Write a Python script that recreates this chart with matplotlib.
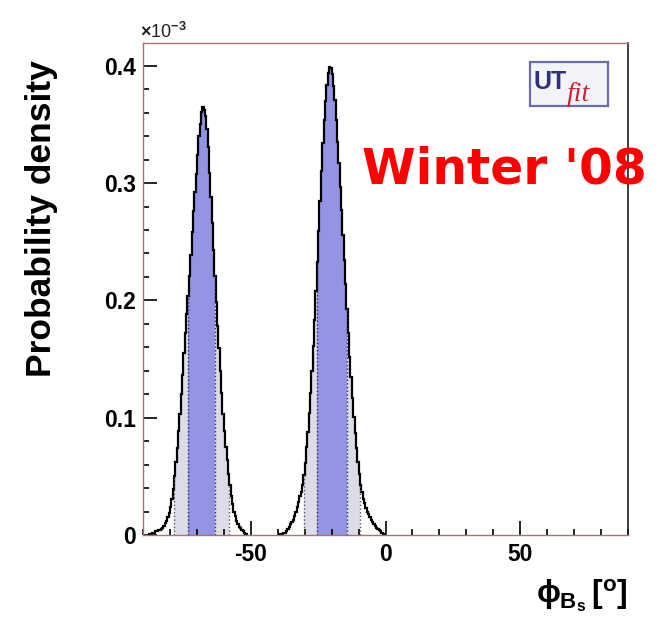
import numpy as np
import matplotlib
matplotlib.use("Agg")
import matplotlib.pyplot as plt
from matplotlib.patches import Rectangle
from matplotlib.ticker import MultipleLocator, FuncFormatter

# phi_Bs posterior, 0.5 degree bins, density in units of 1e-3
bin_width = 0.5
peak1_start = -88.0
peak1_density = [
    0.001, 0.001, 0.001, 0.002, 0.002, 0.003, 0.003, 0.004, 0.004, 0.005,
    0.006, 0.008, 0.010, 0.012, 0.015, 0.019, 0.024, 0.031, 0.039, 0.050,
    0.062, 0.074, 0.089, 0.103, 0.120, 0.136, 0.155, 0.172, 0.188, 0.204,
    0.221, 0.239, 0.258, 0.276, 0.292, 0.308, 0.324, 0.340, 0.350, 0.361,
    0.365, 0.362, 0.357, 0.346, 0.331, 0.309, 0.288, 0.266, 0.243, 0.221,
    0.199, 0.178, 0.159, 0.140, 0.121, 0.103, 0.089, 0.075, 0.064, 0.052,
    0.043, 0.033, 0.026, 0.020, 0.016, 0.012, 0.009, 0.007, 0.006, 0.004,
    0.003, 0.002, 0.001, 0.001,
]
peak2_start = -40.0
peak2_density = [
    0.001, 0.001, 0.001, 0.001, 0.002, 0.002, 0.003, 0.005, 0.007, 0.009,
    0.011, 0.013, 0.016, 0.020, 0.024, 0.028, 0.033, 0.037, 0.043, 0.051,
    0.061, 0.075, 0.088, 0.104, 0.121, 0.140, 0.161, 0.183, 0.208, 0.233,
    0.259, 0.285, 0.310, 0.334, 0.354, 0.370, 0.384, 0.394, 0.399, 0.398,
    0.393, 0.383, 0.371, 0.354, 0.335, 0.317, 0.297, 0.277, 0.256, 0.234,
    0.214, 0.193, 0.172, 0.152, 0.135, 0.117, 0.101, 0.087, 0.074, 0.062,
    0.052, 0.043, 0.037, 0.031, 0.027, 0.023, 0.020, 0.018, 0.015, 0.013,
    0.011, 0.009, 0.008, 0.006, 0.005, 0.004, 0.003, 0.002, 0.001, 0.001,
]

# credible intervals (degrees)
range95 = [(-78.4, -58.0), (-30.4, -9.4)]
range68 = [(-73.2, -63.2), (-25.5, -14.3)]

x_ticks = [-50, 0, 50]
y_ticks = [0, 0.1, 0.2, 0.3, 0.4]

plt.rcParams["font.family"] = ["Liberation Sans", "DejaVu Sans"]
plt.rcParams["axes.unicode_minus"] = False
plt.rcParams["mathtext.fontset"] = "custom"
plt.rcParams["mathtext.rm"] = "Liberation Sans:bold"
plt.rcParams["mathtext.bf"] = "Liberation Sans:bold"
plt.rcParams["mathtext.it"] = "Liberation Sans:bold"

fig = plt.figure(figsize=(6.58, 6.27), dpi=100)
ax = fig.add_axes([143 / 658, 1 - 535 / 627, 485 / 658, 492 / 627])

peaks = []
for start, vals in [(peak1_start, peak1_density), (peak2_start, peak2_density)]:
    vals = np.array(vals)
    edges = start + bin_width * np.arange(len(vals) + 1)
    peaks.append((edges, vals))


def height_at(edges, vals, x):
    i = np.searchsorted(edges, x, side="right") - 1
    i = np.clip(i, 0, len(vals) - 1)
    return vals[i]


def shade(edges, vals, a, b, color):
    inner = edges[(edges > a) & (edges < b)]
    xs = np.concatenate([[a], inner, [b]])
    ys = height_at(edges, vals, xs)
    ax.fill_between(xs, ys, step="post", color=color, lw=0)


for (edges, vals), r95, r68 in zip(peaks, range95, range68):
    shade(edges, vals, r95[0], r95[1], "#dcdce8")
    shade(edges, vals, r68[0], r68[1], "#9494e4")
    for x in r95:
        ax.plot([x, x], [0, height_at(edges, vals, x)], color="#555555", ls=":", lw=1)
    for x in r68:
        ax.plot([x, x], [0, height_at(edges, vals, x)], color="#2a2a55", ls=":", lw=1)
    ax.stairs(vals, edges, baseline=None, color="black", lw=1.6)

ax.set_xlim(-90, 90)
ax.set_ylim(0, 0.4194)

ax.xaxis.set_major_locator(MultipleLocator(50))
ax.xaxis.set_minor_locator(MultipleLocator(10))
ax.yaxis.set_major_locator(MultipleLocator(0.1))
ax.yaxis.set_minor_locator(MultipleLocator(0.02))
ax.xaxis.set_major_formatter(FuncFormatter(lambda v, p: f"{v:g}"))
ax.yaxis.set_major_formatter(FuncFormatter(lambda v, p: f"{v:g}"))
ax.set_xticks(x_ticks)
ax.set_yticks(y_ticks)
ax.tick_params(which="both", direction="in", top=False, right=False, color="black", width=1.2)
ax.tick_params(which="major", length=10)
ax.tick_params(which="minor", length=4.5)
ax.tick_params(axis="x", pad=6, labelsize=16.5)
ax.tick_params(axis="y", pad=5, labelsize=16.5)
for lbl in ax.get_xticklabels() + ax.get_yticklabels():
    lbl.set_fontweight("bold")

for side in ["left", "bottom", "top"]:
    ax.spines[side].set_color("#b07070")
    ax.spines[side].set_linewidth(1.0)
ax.spines["right"].set_color("#202020")
ax.spines["right"].set_linewidth(1.2)

ax.set_ylabel("Probability density", fontsize=25.5, fontweight="bold")
ax.yaxis.set_label_coords(-0.175, 0.644)

fig.text(140 / 658, 1 - 38 / 627, r"$\times$10$^{-3}$", fontsize=13, color="#222222")

fig.text(627 / 658, 1 - 614 / 627, r"$\phi_{B_{s}}\,[^{o}]$", fontsize=23,
         ha="right", va="bottom")

ax.text(-8.6, 0.2995, "Winter '08", color="#ff0000", fontsize=35,
        fontweight="bold", family="DejaVu Sans", clip_on=False)

# UTfit logo
ax.add_patch(Rectangle((53.7, 0.366), 29.0, 0.037, facecolor="#f3f3fa",
                       edgecolor="#6b6ba8", lw=1.6, zorder=5))
ax.text(55.0, 0.380, "UT", color="#2f2f7c", fontsize=18, fontweight="bold",
        zorder=6)
ax.text(67.3, 0.370, "fit", color="#cc2233", fontsize=20, style="italic",
        family="Liberation Serif", zorder=6)

fig.savefig("out.png", dpi=100)
